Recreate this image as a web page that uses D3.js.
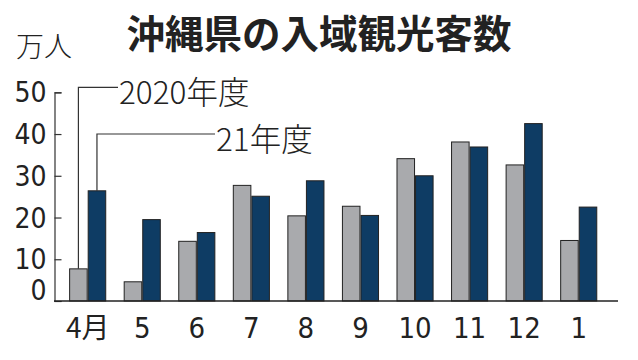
<!DOCTYPE html>
<html><head><meta charset="utf-8">
<script src="https://cdn.jsdelivr.net/npm/d3@7"></script>
<style>
html,body{margin:0;padding:0;background:#fff;}
svg{display:block;}
</style></head>
<body>
<script>
const months = ["4月","5","6","7","8","9","10","11","12","1"];
const fy2020 = [7.7, 4.6, 14.3, 27.7, 20.4, 22.7, 34.1, 38.1, 32.6, 14.5];
const fy2021 = [26.4, 19.5, 16.4, 25.1, 28.8, 20.5, 30.0, 36.9, 42.5, 22.5];
const yTicks = [0, 10, 20, 30, 40, 50];
const seriesNames = ["2020年度", "21年度"];
const title = "沖縄県の入域観光客数";
const unit = "万人";

const W = 638, H = 360;
const colors = ["#a9aaad", "#0e3c64"];
const narrow = "'Liberation Sans Narrow','DejaVu Sans Condensed','Liberation Sans',sans-serif";
const jp = "'Noto Sans CJK JP','Noto Sans',sans-serif";

const svg = d3.select("body").append("svg").attr("width", W).attr("height", H);

const x = d3.scaleBand().domain(months).range([60.4, 606]).paddingInner(0.32).paddingOuter(0.16);
const xs = d3.scaleBand().domain([0, 1]).range([0, x.bandwidth()]);
const y = d3.scaleLinear().domain([0, 50]).range([301, 92.3]);

// title
svg.append("text").attr("x", 319).attr("y", 31).attr("text-anchor", "middle")
  .attr("dominant-baseline", "central").attr("font-family", jp).attr("font-weight", 700)
  .attr("font-size", 38.5).attr("fill", "#222").text(title);
svg.append("text").attr("x", 16).attr("y", 45).attr("dominant-baseline", "central")
  .attr("font-family", jp).attr("font-weight", 300).attr("font-size", 28).attr("fill", "#222").text(unit);

// bars
const data = months.map((m, i) => ({m, vals: [fy2020[i], fy2021[i]]}));
const g = svg.append("g");
data.forEach(d => {
  d.vals.forEach((v, s) => {
    g.append("rect")
      .attr("x", x(d.m) + xs(s) + 0.5)
      .attr("y", y(v))
      .attr("width", xs.bandwidth() - 1)
      .attr("height", y(0) - y(v))
      .attr("fill", colors[s]).attr("stroke", "#222").attr("stroke-width", 1);
  });
});

// y axis
const yAxis = d3.axisLeft(y).tickValues(yTicks).tickSize(-7).tickPadding(0).tickFormat(d3.format("d"));
const ya = svg.append("g").attr("transform", "translate(54.5,0)").call(yAxis);
ya.select(".domain").attr("stroke", "#333").attr("stroke-width", 1.2);
ya.selectAll(".tick line").attr("stroke", "#333").attr("stroke-width", 1.2);
ya.selectAll(".tick text").attr("x", -8).attr("dy", d => d === 0 ? "-0.05em" : "0.34em")
  .attr("font-family", narrow).attr("font-size", 28).attr("fill", "#222");

// x axis
const xAxis = d3.axisBottom(x).tickSize(0).tickPadding(0);
const xa = svg.append("g").attr("transform", "translate(0,301)").call(xAxis);
xa.select(".domain").remove();
xa.selectAll(".tick text").attr("y", 37).attr("dy", 0)
  .attr("font-family", d => d === "4月" ? jp : narrow)
  .attr("font-size", d => d === "4月" ? 28 : 29).attr("fill", "#222");
svg.append("line").attr("x1", 54).attr("x2", 618).attr("y1", 301).attr("y2", 301)
  .attr("stroke", "#222").attr("stroke-width", 1.5);

// leaders
const first = data[0];
const leaderY = [87.3, 134];
const leaderEnd = [118, 215];
first.vals.forEach((v, s) => {
  const cx = x(first.m) + xs(s) + xs.bandwidth() / 2;
  svg.append("path")
    .attr("d", `M${cx},${y(v)}V${leaderY[s]}H${leaderEnd[s]}`)
    .attr("fill", "none").attr("stroke", "#333").attr("stroke-width", 1.2);
  svg.append("text").attr("x", leaderEnd[s] + 1).attr("y", leaderY[s] + 2.5)
    .attr("dominant-baseline", "central")
    .attr("font-family", jp).attr("font-weight", 300).attr("font-size", 31.5).attr("fill", "#222")
    .text(seriesNames[s]);
});
</script>
</body></html>
